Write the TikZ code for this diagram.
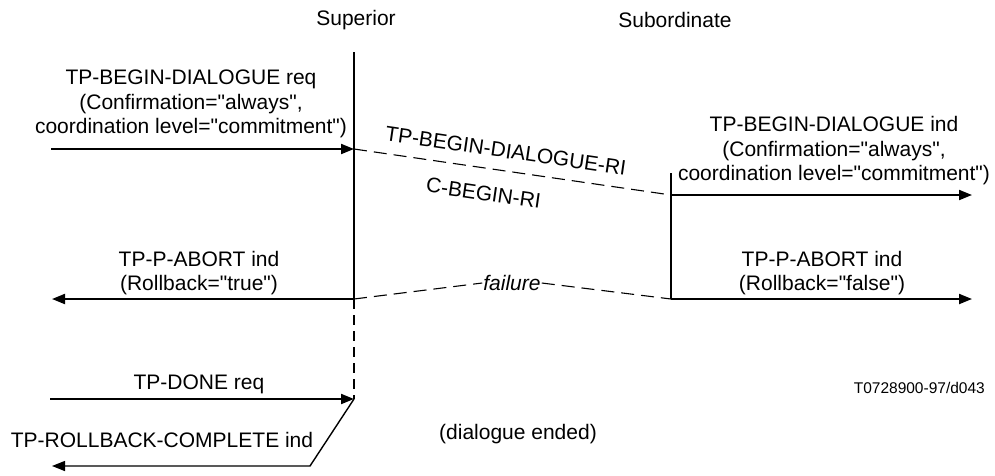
\documentclass[tikz,border=0pt]{standalone}
\usepackage{fontspec}
\setmainfont{Liberation Sans}[Ligatures=TeXOff]
\usetikzlibrary{arrows.meta}
\begin{document}
\begin{tikzpicture}[x=1pt,y=-1pt,
  txt/.style={font=\fontsize{21}{24.5}\selectfont, align=center, inner sep=0pt},
  small/.style={font=\fontsize{15.5}{18}\selectfont, inner sep=0pt},
  life/.style={line width=2pt},
  msg/.style={line width=2pt, -{Triangle[length=13pt,width=10pt]}},
  thinmsg/.style={line width=1.4pt, -{Triangle[length=13pt,width=10pt]}},
  net/.style={line width=1.1pt, dash pattern=on 13pt off 7pt},
  idle/.style={line width=2pt, dash pattern=on 10pt off 6pt}]
\useasboundingbox (0,0) rectangle (995,475);

% lifeline points
\coordinate (supTop) at (354,52);
\coordinate (s1) at (354,149);
\coordinate (s2) at (354,299);
\coordinate (s3) at (354,399);
\coordinate (subTop) at (671,173);
\coordinate (b1) at (671,195);
\coordinate (b2) at (671,299);
\coordinate (inL1) at (51,149);
\coordinate (outL2) at (52,299);
\coordinate (inL3) at (50,399);
\coordinate (bend) at (310,466);
\coordinate (outL4) at (52,466);
\coordinate (outR1) at (972,195);
\coordinate (outR2) at (972,299);

% headings
\node[txt] (supLbl) at (356,20) {Superior};
\node[txt] (subLbl) at (675,20) {Subordinate};

% lifelines
\draw[life] (supTop) -- (s2);
\draw[idle] (s2) -- (s3);
\draw[life] (subTop) -- (b2);

% begin dialogue
\draw[msg] (inL1) -- (s1);
\node[txt] (reqTxt) at (191,104) {TP-BEGIN-DIALOGUE req\\(Confirmation="always",\\coordination level="commitment")};
\draw[net] (s1) -- node[txt, sloped, above=12pt, pos=0.47] (riTxt) {TP-BEGIN-DIALOGUE-RI}
               node[txt, sloped, below=17pt, pos=0.42] (cTxt) {C-BEGIN-RI} (b1);
\draw[msg] (b1) -- (outR1);
\node[txt] (indTxt) at (834,151) {TP-BEGIN-DIALOGUE ind\\(Confirmation="always",\\coordination level="commitment")};

% abort
\draw[msg] (s2) -- (outL2);
\node[txt] (abortL) at (199,273) {TP-P-ABORT ind\\(Rollback="true")};
\draw[msg] (b2) -- (outR2);
\node[txt] (abortR) at (822,273) {TP-P-ABORT ind\\(Rollback="false")};
\node[txt, font=\fontsize{21}{24.5}\selectfont\itshape, inner xsep=1pt] (fail) at (512,283) {failure};
\draw[net] (s2) -- (fail.west);
\draw[net] (fail.east) -- (b2);

% done / rollback complete
\draw[msg] (inL3) -- (s3);
\node[txt] (doneTxt) at (199,384) {TP-DONE req};
\draw[thinmsg] (s3) -- (bend) -- (outL4);
\node[txt] (rbTxt) at (162,440) {TP-ROLLBACK-COMPLETE ind};

\node[txt] (ended) at (518,434) {(dialogue ended)};
\node[small, anchor=east] (code) at (985,388) {T0728900-97/d043};
\end{tikzpicture}
\end{document}
